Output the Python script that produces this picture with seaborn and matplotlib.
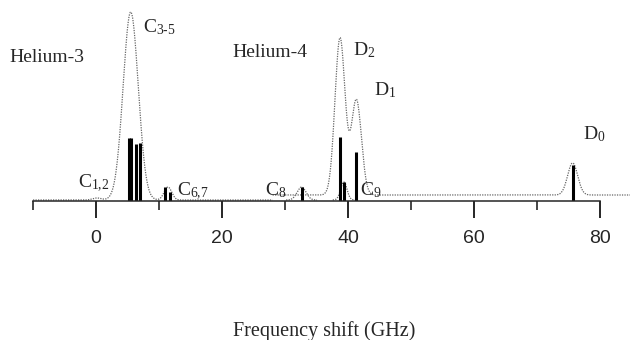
import numpy as np
import pandas as pd
import seaborn as sns
import matplotlib.pyplot as plt

# peak parameters: centre (GHz), height, width (GHz)
he3_centre = [0.15, 5.5, 11.4]
he3_height = [2, 188, 13]
he3_width = [0.7, 1.2, 0.6]
he3_base = 1

he4_centre = [38.7, 41.3, 75.6]
he4_height = [157, 95, 32]
he4_width = [0.8, 0.8, 0.8]
he4_base = 6

# small helium-4 C components drawn on their own
comp_centre = [32.6, 39.3]
comp_height = [13, 18]
comp_width = [0.7, 0.5]

# stick spectrum
stick_pos = [5.2, 5.55, 6.3, 7.0, 10.9, 11.7, 32.6, 39.3, 38.7, 41.3, 75.6]
stick_height = [63, 63, 57, 58, 14, 9, 14, 19, 64, 49, 36]

# labels: text, x (GHz), baseline height
labels = ["Helium-3", "Helium-4", r"C$_{3\text{-}5}$", r"D$_2$", r"D$_1$", r"D$_0$",
          r"C$_{1{,}2}$", r"C$_{6{,}7}$", r"C$_8$", r"C$_9$"]
label_x = [-13.7, 21.6, 7.45, 40.75, 44.1, 77.2, -2.85, 12.85, 26.8, 41.9]
label_y = [139, 144, 169, 146, 106, 62, 14, 6, 6, 6]


def profile(x, centres, heights, widths, base):
    y = np.full_like(x, base, dtype=float)
    for c, h, w in zip(centres, heights, widths):
        y += h * np.exp(-(x - c) ** 2 / (2 * w ** 2))
    return y


sns.set_style("ticks")
plt.rcParams["font.family"] = ["Liberation Serif", "DejaVu Serif"]
plt.rcParams["mathtext.fontset"] = "custom"
plt.rcParams["mathtext.rm"] = "Liberation Serif"
plt.rcParams["mathtext.it"] = "Liberation Serif"

fig = plt.figure(figsize=(6.3, 3.4), dpi=100)
ax = fig.add_axes([33 / 630, 139 / 340, 597 / 630, 197 / 340])

dot = dict(color="0.4", linewidth=0.9, linestyle=(0, (1, 1)))

x3 = np.linspace(-10, 28, 800)
sns.lineplot(x=x3, y=profile(x3, he3_centre, he3_height, he3_width, he3_base), ax=ax, **dot)
x4 = np.linspace(28, 84.7, 1200)
sns.lineplot(x=x4, y=profile(x4, he4_centre, he4_height, he4_width, he4_base), ax=ax, **dot)
for c, h, w in zip(comp_centre, comp_height, comp_width):
    xc = np.linspace(c - 3.5 * w, c + 3.5 * w, 200)
    sns.lineplot(x=xc, y=profile(xc, [c], [h], [w], 1), ax=ax, **dot)

ax.vlines(stick_pos, 0, stick_height, color="black", linewidth=2.2)

for t, x, y in zip(labels, label_x, label_y):
    ax.text(x, y, t, fontsize=14, va="baseline", ha="left")

ax.set_xlim(-10, 84.7)
ax.set_ylim(0, 197)
sns.despine(ax=ax, left=True, top=True, right=True)
ax.spines["bottom"].set_bounds(-10, 80)
ax.spines["bottom"].set_linewidth(1.1)
ax.set_yticks([])
ax.set_xticks([0, 20, 40, 60, 80])
ax.set_xticks([-10, 10, 30, 50, 70], minor=True)
ax.tick_params(axis="x", which="major", length=12, width=1.4, pad=9, labelsize=14,
               labelfontfamily="Liberation Sans")
ax.tick_params(axis="x", which="minor", length=6.5, width=1.2)
ax.set_xlabel("Frequency shift (GHz)", fontsize=14.5)
ax.xaxis.set_label_coords((324 - 33) / 597, -120 / 197)

fig.savefig("out.png", dpi=100)
